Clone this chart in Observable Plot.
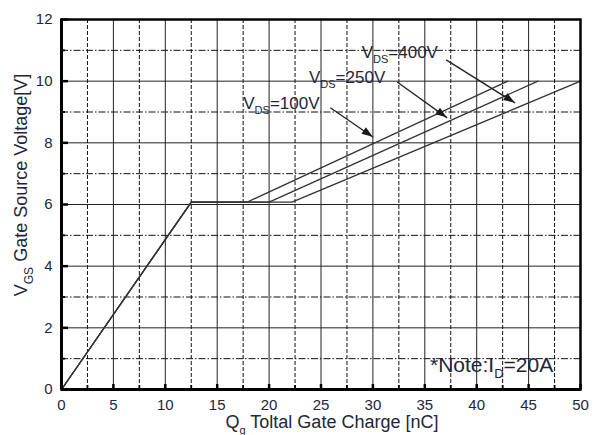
<!DOCTYPE html>
<html>
<head>
<meta charset="utf-8">
<script src="https://cdn.jsdelivr.net/npm/d3@7"></script>
<script src="https://cdn.jsdelivr.net/npm/@observablehq/plot@0.6"></script>
<style>
  html, body { margin: 0; padding: 0; background: #fff; }
  svg { display: block; }
</style>
</head>
<body>
<div id="chart"></div>
<script>
// ---- data ----
const seriesNames = ["100V", "250V", "400V"];
const qg100 = [0, 12.5, 17.9, 43.0];
const vgs100 = [0, 6.08, 6.08, 10.0];
const qg250 = [0, 12.5, 20.0, 45.9];
const vgs250 = [0, 6.08, 6.08, 10.0];
const qg400 = [0, 12.5, 22.2, 50.0];
const vgs400 = [0, 6.08, 6.08, 10.0];

const xMajor = [0, 5, 10, 15, 20, 25, 30, 35, 40, 45, 50];
const xMinor = [2.5, 7.5, 12.5, 17.5, 22.5, 27.5, 32.5, 37.5, 42.5, 47.5];
const yMajor = [0, 2, 4, 6, 8, 10, 12];
const yMinor = [1, 3, 5, 7, 9, 11];

// annotation labels (text start & baseline, data units)
const labelVal = ["=100V", "=250V", "=400V"];
const labelX = [17.56, 23.89, 28.97];
const labelY = [9.08, 9.92, 10.73];
// annotation arrows
const arrowX1 = [25.9, 32.34, 37.06];
const arrowY1 = [9.14, 9.97, 10.69];
const arrowX2 = [30.03, 37.15, 43.7];
const arrowY2 = [8.18, 8.81, 9.29];

const noteX = 35.55, noteY = 0.55;

// ---- build tables ----
const curves = [];
[[qg100, vgs100], [qg250, vgs250], [qg400, vgs400]].forEach(([xs, ys], i) => {
  xs.forEach((q, j) => curves.push({series: seriesNames[i], q, v: ys[j]}));
});
const arrows = arrowX1.map((x1, i) => ({x1, y1: arrowY1[i], x2: arrowX2[i], y2: arrowY2[i]}));

const TXT = "#22263a";
const FONT = "'Liberation Sans', Arial, sans-serif";

const plot = Plot.plot({
  width: 600,
  height: 435,
  marginLeft: 61,
  marginRight: 20,
  marginTop: 19,
  marginBottom: 46,
  style: {fontFamily: FONT, fontSize: "15px", color: TXT, background: "#fff"},
  x: {domain: [0, 50]},
  y: {domain: [0, 12]},
  marks: [
    Plot.ruleX(xMinor, {stroke: "#111", strokeWidth: 1, strokeDasharray: "4,2"}),
    Plot.ruleY(yMinor, {stroke: "#111", strokeWidth: 1, strokeDasharray: "7,2,1.5,2"}),
    Plot.ruleX(xMajor, {stroke: "#222", strokeWidth: 1}),
    Plot.ruleY(yMajor, {stroke: "#222", strokeWidth: 1}),
    Plot.line(curves, {x: "q", y: "v", z: "series", stroke: "#333", strokeWidth: 1.3}),
    Plot.link(arrows, {x1: "x1", y1: "y1", x2: "x2", y2: "y2", stroke: "#222", strokeWidth: 1.3}),
    Plot.axisX(xMajor, {tickSize: 0, tickPadding: 10, fontSize: 15, fill: TXT, label: null}),
    Plot.axisY(yMajor, {tickSize: 0, tickPadding: 9, fontSize: 15, fill: TXT, label: null}),
    Plot.axisX(xMajor, {tickSize: -5, strokeWidth: 2.5, stroke: "#000", tickFormat: () => "", label: null}),
    Plot.axisX(xMinor, {tickSize: -4, strokeWidth: 1.8, stroke: "#000", tickFormat: () => "", label: null}),
    Plot.axisY(yMajor, {tickSize: -7, strokeWidth: 2.5, stroke: "#000", tickFormat: () => "", label: null}),
    Plot.axisY(yMinor, {tickSize: -4, strokeWidth: 1.8, stroke: "#000", tickFormat: () => "", label: null}),
    Plot.frame({stroke: "#000", strokeWidth: 2.5}),
    Plot.ruleX([0], {stroke: "#000", strokeWidth: 3}),
    Plot.ruleY([0], {stroke: "#000", strokeWidth: 3})
  ]
});

document.getElementById("chart").appendChild(plot);

const sx = plot.scale("x"), sy = plot.scale("y");
const svg = d3.select(plot);

// filled arrowheads at the arrow ends, placed through the plot's scales
const heads = svg.append("g").attr("fill", "#1a1a1a");
arrows.forEach(a => {
  const px1 = sx.apply(a.x1), py1 = sy.apply(a.y1);
  const px2 = sx.apply(a.x2), py2 = sy.apply(a.y2);
  const ang = Math.atan2(py2 - py1, px2 - px1);
  const L = 11, W = 4;
  const bx = px2 - L * Math.cos(ang), by = py2 - L * Math.sin(ang);
  const nx = -Math.sin(ang) * W, ny = Math.cos(ang) * W;
  heads.append("path").attr("d", `M${px2},${py2}L${bx + nx},${by + ny}L${bx - nx},${by - ny}Z`);
});

// ---- rich text labels with subscripts ----
function subText(g, x, y, main, sub, rest, size, subSize, subDy, anchor) {
  const t = g.append("text")
    .attr("x", x).attr("y", y)
    .attr("font-family", FONT)
    .attr("font-size", size)
    .attr("fill", TXT)
    .attr("text-anchor", anchor || "start");
  t.append("tspan").text(main);
  t.append("tspan").attr("font-size", subSize).attr("dy", subDy).text(sub);
  t.append("tspan").attr("dy", -subDy).text(rest);
  return t;
}

const ann = svg.append("g");
labelVal.forEach((val, i) => {
  subText(ann, sx.apply(labelX[i]), sy.apply(labelY[i]), "V", "DS", val, 17, 11, 5);
});

subText(ann, sx.apply(noteX), sy.apply(noteY), "*Note:I", "D", "=20A", 21, 13, 6);

// axis titles
subText(svg, 332, 428, "Q", "g", " Toltal Gate Charge [nC]", 18, 11, 6, "middle");
const yl = svg.append("g").attr("transform", "translate(27,185) rotate(-90)");
subText(yl, 0, 0, "V", "GS", " Gate Source Voltage[V]", 18, 12, 6, "middle");
</script>
</body>
</html>
